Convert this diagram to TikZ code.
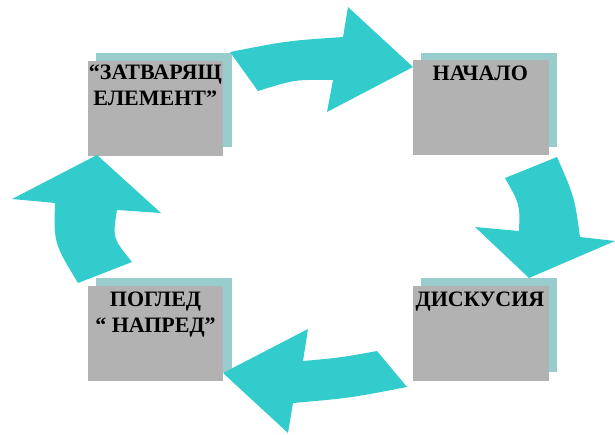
\documentclass[tikz,border=0pt]{standalone}
\usepackage{fontspec}
\setmainfont{Liberation Serif}[BoldFont={Liberation Serif Bold}]
\definecolor{arrowc}{HTML}{33CCCC}
\definecolor{shadowc}{HTML}{99CCCC}
\definecolor{boxc}{HTML}{B2B2B2}
\begin{document}
\begin{tikzpicture}[x=1pt,y=-1pt,
  shadowbox/.style={fill=shadowc, draw=none, inner sep=0pt, anchor=north west, minimum width=135.5pt, minimum height=94pt},
  graybox/.style={fill=boxc, draw=none, inner sep=0pt, anchor=north west, minimum width=135.5pt, minimum height=95pt},
  cyclearrow/.style={fill=arrowc, draw=none},
  boxlabel/.style={font=\fontsize{22}{26}\selectfont\bfseries, align=center, anchor=north, inner sep=0pt}]
\useasboundingbox (0,0) rectangle (615,434);
% shadows
\node[shadowbox] (s1) at (96,53) {};
\node[shadowbox] (s2) at (421,52.5) {};
\node[shadowbox] (s3) at (421,278) {};
\node[shadowbox] (s4) at (96,278) {};
% gray boxes
\node[graybox] (b1) at (87.5,60.5) {};
\node[graybox] (b2) at (413,59.5) {};
\node[graybox] (b3) at (413,285.5) {};
\node[graybox] (b4) at (87.5,285.5) {};
% labels
\node[boxlabel] (t1) at (155.3,65) {“ЗАТВАРЯЩ\\ЕЛЕМЕНТ”};
\node[boxlabel] (t2) at (480.3,66.2) {НАЧАЛО};
\node[boxlabel] (t3) at (480,292.2) {ДИСКУСИЯ};
\node[boxlabel] (t4) at (155.5,291.5) {ПОГЛЕД\\“ НАПРЕД”};
% arrows
\fill[cyclearrow] (230,52) .. controls (287.2,40.8) .. (343,37) -- (348,7) -- (413,67)
  -- (327,112) -- (333,80) .. controls (294.8,79.5) .. (258,91) -- cycle;
\fill[cyclearrow] (505,178) -- (557,157) .. controls (574.5,197) .. (580,237) -- (615,241)
  -- (529,278) -- (475,227) -- (519,231) .. controls (520,204.5) .. (505,178) -- cycle;
\fill[cyclearrow] (377,351) -- (407,387) .. controls (350,398) .. (293,403) -- (288,433)
  -- (223,373) -- (308,329) -- (303,361) .. controls (340,357.7) .. (377,351) -- cycle;
\fill[cyclearrow] (78,283) .. controls (53.8,243) .. (55,203) -- (12,199) -- (97,155)
  -- (161,213) -- (117,210) .. controls (112.5,238) .. (132,262) -- cycle;
\end{tikzpicture}
\end{document}
